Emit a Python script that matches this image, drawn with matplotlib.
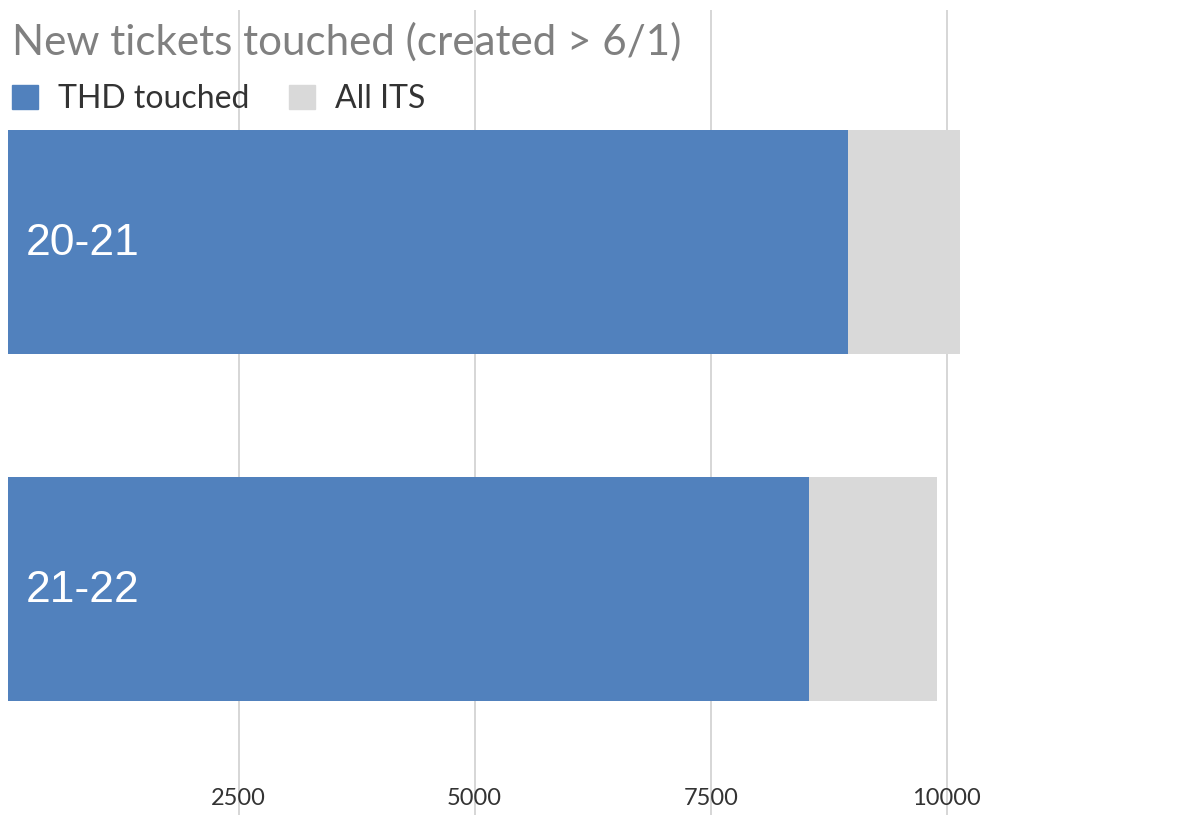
import matplotlib.pyplot as plt
from matplotlib.patches import Patch

years = ["20-21", "21-22"]
thd_touched = [8950, 8540]
all_its = [10140, 9895]
tick_values = [2500, 5000, 7500, 10000]
tick_labels = ["2500", "5000", "7500", "10000"]

blue = "#5181bd"
grey = "#d9d9d9"

W, H = 1177, 815
fig = plt.figure(figsize=(W / 100, H / 100), dpi=100)
ax = fig.add_axes([8 / W, 0, 1 - 8 / W, 1 - 10 / H])

pos = list(range(len(years)))
ax.barh(pos, all_its, height=0.645, color=grey, zorder=2)
ax.barh(pos, thd_touched, height=0.645, color=blue, zorder=3)

for p, lab in zip(pos, years):
    ax.text(243, p + 0.005, lab, color="white", fontsize=32, family="Liberation Sans",
            va="center", ha="left", zorder=4)

ax.set_xlim(57, 12439)
ax.set_ylim(1.651, -0.669)
ax.set_yticks([])
ax.set_xticks(tick_values)
ax.set_xticklabels(tick_labels, family="Lato", fontsize=17, color="#333333")
ax.tick_params(axis="x", length=0, pad=-19.5)
ax.grid(axis="x", color="#d0d0d0", linewidth=1.2, zorder=0)
ax.set_axisbelow(True)
for s in ax.spines.values():
    s.set_visible(False)

fig.text(12 / W, 1 - 42 / H, "New tickets touched (created > 6/1)", family="Lato",
         fontsize=30.3, color="#808080", va="center", ha="left")

handles = [Patch(color=blue, label="THD touched"), Patch(color=grey, label="All ITS")]
fig.legend(handles=handles, loc="upper left", bbox_to_anchor=(12 / W, 1 - 84 / H),
           ncol=2, frameon=False, prop={"family": "Lato", "size": 23},
           handlelength=0.81, handleheight=0.78, handletextpad=0.63,
           columnspacing=1.25, borderpad=0, borderaxespad=0, labelcolor="#333333")

fig.savefig("out.png", dpi=100)
